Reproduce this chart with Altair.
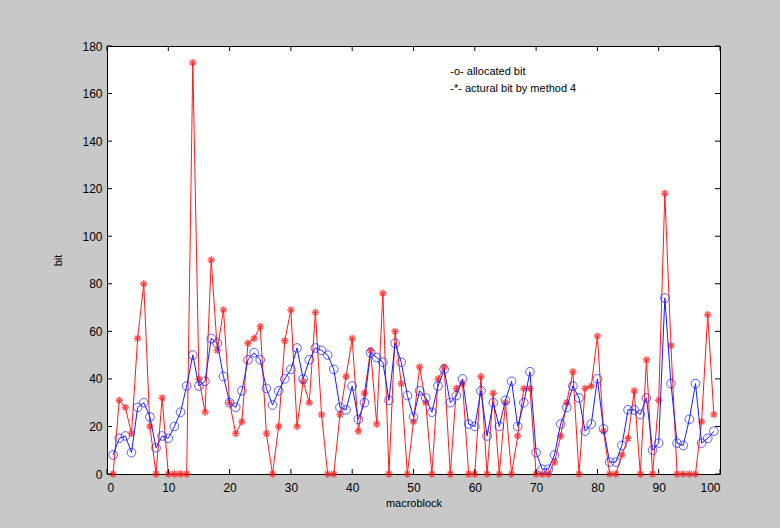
import altair as alt
import pandas as pd

macroblock = list(range(1, 100))
allocated = [8,15,16,9,28,30,24,11,16,15,
             20,26,37,50,37,39,57,55,41,30,
             28,35,48,51,48,36,29,35,40,44,
             53,40,48,53,52,50,44,28,27,37,
             23,30,51,49,47,31,55,47,33,24,
             35,32,26,37,44,30,33,40,21,20,
             35,16,30,20,31,39,20,30,43,9,
             2,2,8,21,28,37,32,18,21,40,
             19,5,5,12,27,27,25,32,10,13,
             74,38,13,12,23,38,13,15,18]
actual = [0,31,28,17,57,80,20,0,32,0,
          0,0,0,173,40,26,90,52,69,30,
          17,22,55,57,62,17,0,20,56,69,
          20,39,30,68,25,0,0,25,41,57,
          18,34,52,21,76,0,60,38,0,22,
          45,30,0,40,45,0,36,38,0,0,
          41,0,34,0,30,0,16,36,36,0,
          0,0,5,16,30,43,0,36,37,58,
          18,0,0,8,15,35,0,48,0,31,
          118,54,0,0,0,0,22,67,25]
x_ticks = [0,10,20,30,40,50,60,70,80,90,100]
y_ticks = [0,20,40,60,80,100,120,140,160,180]
legend_lines = ["-o- allocated bit", "-*- actural bit by method 4"]
legend_y = [169, 162]

df = pd.DataFrame({"macroblock": macroblock, "allocated": allocated, "actual": actual})
W, H = 613, 428
FONT = "Liberation Sans"

xs = alt.Scale(domain=[0, 100], nice=False, zero=False)
ys = alt.Scale(domain=[0, 180], nice=False)

xax = alt.Axis(values=x_ticks, title="macroblock", grid=False, tickSize=0, domain=False,
               labelPadding=8, titlePadding=4, labelFontSize=12, titleFontSize=11,
               labelFont=FONT, titleFont=FONT, labelColor="black", titleColor="black",
               titleFontWeight="normal")
yax = alt.Axis(values=y_ticks, title="bit", grid=False, tickSize=0, domain=False,
               labelPadding=5, titlePadding=18, labelFontSize=12, titleFontSize=11,
               labelFont=FONT, titleFont=FONT, labelColor="black", titleColor="black",
               titleFontWeight="normal")

base = alt.Chart(df)
red_line = base.mark_line(color="#ff1a1a", strokeWidth=1).encode(
    x=alt.X("macroblock:Q", scale=xs, axis=xax), y=alt.Y("actual:Q", scale=ys, axis=yax))
red_pts = base.mark_point(shape="M-1,0L1,0M0,-1L0,1M-0.7,-0.7L0.7,0.7M-0.7,0.7L0.7,-0.7",
                          color="#ff1a1a", filled=False, size=55, strokeWidth=1.5).encode(
    x=alt.X("macroblock:Q", scale=xs), y=alt.Y("actual:Q", scale=ys))
blue_line = base.mark_line(color="#1a1aff", strokeWidth=1).encode(
    x=alt.X("macroblock:Q", scale=xs), y=alt.Y("allocated:Q", scale=ys))
blue_pts = base.mark_point(shape="circle", color="#1a1aff", filled=False, size=75, strokeWidth=1).encode(
    x=alt.X("macroblock:Q", scale=xs), y=alt.Y("allocated:Q", scale=ys))

xt = pd.DataFrame({"t": x_ticks})
yt = pd.DataFrame({"t": y_ticks})
tick_len = 5
xb = alt.Chart(xt).mark_rule(color="black", strokeWidth=1).encode(
    x=alt.X("t:Q", scale=xs), y=alt.value(H), y2=alt.value(H - tick_len))
xtop = alt.Chart(xt).mark_rule(color="black", strokeWidth=1).encode(
    x=alt.X("t:Q", scale=xs), y=alt.value(0), y2=alt.value(tick_len))
yl = alt.Chart(yt).mark_rule(color="black", strokeWidth=1).encode(
    y=alt.Y("t:Q", scale=ys), x=alt.value(0), x2=alt.value(tick_len))
yr = alt.Chart(yt).mark_rule(color="black", strokeWidth=1).encode(
    y=alt.Y("t:Q", scale=ys), x=alt.value(W), x2=alt.value(W - tick_len))

leg = alt.Chart(pd.DataFrame({"txt": legend_lines, "y": legend_y, "x": [56, 56]})).mark_text(
    align="left", baseline="middle", font=FONT, fontSize=11, color="black").encode(
    x=alt.X("x:Q", scale=xs), y=alt.Y("y:Q", scale=ys), text="txt:N")

chart = alt.layer(red_line, red_pts, blue_line, blue_pts, xb, xtop, yl, yr, leg).properties(
    width=W, height=H,
    autosize=alt.AutoSizeParams(type="none"),
    padding={"left": 107, "top": 46, "right": 60, "bottom": 54},
    background="#c8c8c8",
).configure_view(stroke="black", strokeWidth=1, fill="white")

chart.save("out.html", embed_options={"renderer": "svg", "actions": False})
